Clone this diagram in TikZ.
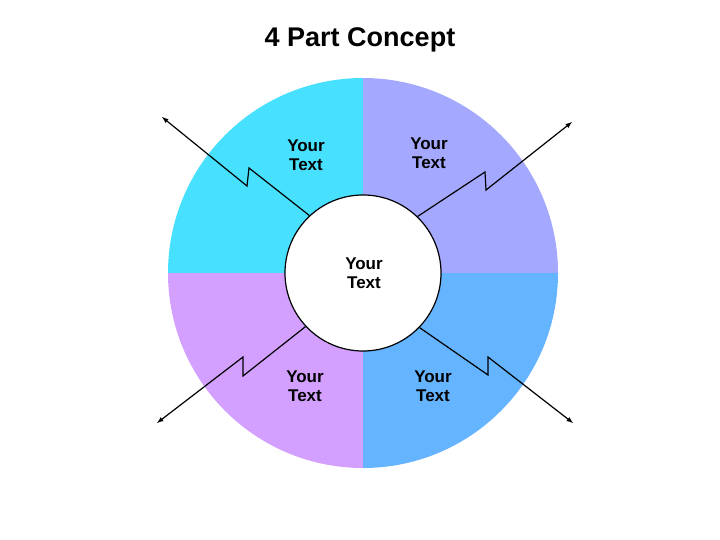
\documentclass[tikz,border=0pt]{standalone}
\usepackage{fontspec}
\setmainfont{Liberation Sans}
\begin{document}
\begin{tikzpicture}[x=1pt,y=-1pt,
  lbl/.style={font=\bfseries\fontsize{17}{19}\selectfont,align=center,inner sep=0},
  bolt/.style={draw,line width=1.2pt,-latex}]
\useasboundingbox (0,0) rectangle (720,540);
\coordinate (c) at (363,273);
\fill[fill={rgb,255:red,72;green,224;blue,255}] (c) -- (168,273) arc[start angle=180,end angle=270,radius=195] -- cycle;
\fill[fill={rgb,255:red,164;green,168;blue,255}] (c) -- (363,78) arc[start angle=270,end angle=360,radius=195] -- cycle;
\fill[fill={rgb,255:red,212;green,160;blue,255}] (c) -- (168,273) arc[start angle=180,end angle=90,radius=195] -- cycle;
\fill[fill={rgb,255:red,100;green,180;blue,255}] (c) -- (558,273) arc[start angle=0,end angle=90,radius=195] -- cycle;
\node[draw,line width=1.2pt,fill=white,circle,minimum size=156pt,inner sep=0] (hub) at (c) {};
\node[lbl] (t0) at (364,273) {Your\\Text};
\node[font=\bfseries\fontsize{27}{30}\selectfont] (title) at (360,40) {4 Part Concept};
\node[lbl] (t1) at (306,155) {Your\\Text};
\node[lbl] (t2) at (429,153) {Your\\Text};
\node[lbl] (t3) at (305,386) {Your\\Text};
\node[lbl] (t4) at (433,386) {Your\\Text};
\coordinate (e1) at (162,117);
\coordinate (e2) at (572,122);
\coordinate (e3) at (157,423);
\coordinate (e4) at (573,423);
\draw[bolt] (hub.133) -- (249,168) -- (247,186) -- (e1);
\draw[bolt] (hub.46) -- (485,172) -- (486,190) -- (e2);
\draw[bolt] (hub.223) -- (243,376) -- (243,357) -- (e3);
\draw[bolt] (hub.-44) -- (488,375) -- (488,357) -- (e4);
\end{tikzpicture}
\end{document}
